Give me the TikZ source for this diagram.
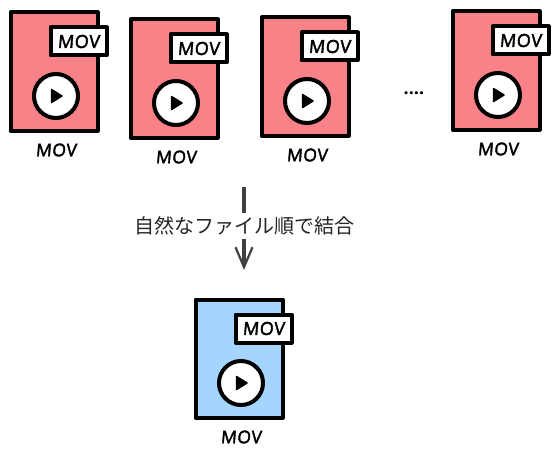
\documentclass[tikz,border=0pt]{standalone}
\usepackage{fontspec}
\setmainfont{Open Sans}
\newfontfamily\cjk{Noto Sans CJK JP}
\newfontfamily\movfont[FakeBold=2.2,FakeSlant=0.08,LetterSpace=3]{Open Sans}
\usetikzlibrary{arrows.meta}
\definecolor{redfill}{HTML}{F98289}
\definecolor{bluefill}{HTML}{A5D5FF}
\tikzset{
  x=1pt,y=-1pt,
  ink/.style={line width=4pt,line join=round,line cap=round,draw=black},
  filebody/.style={ink,minimum width=87pt,minimum height=118pt,inner sep=0pt},
  movtag/.style={ink,fill=white,minimum width=56pt,minimum height=28pt,inner sep=0pt,font=\movfont\fontsize{18}{18}\selectfont,text=black},
  playdisc/.style={ink,fill=white,circle,minimum size=44pt,inner sep=0pt},
  playmark/.style={fill=black,line join=round,draw=black,line width=1.5pt},
  caption/.style={inner sep=0pt,font=\movfont\fontsize{17.5}{18}\selectfont},
}
\newcommand{\movicon}[4]{% name, x, y of body top-left, fill
  \node[filebody,fill=#4] (#1body) at (#2+45,#3+60.5) {};
  \node[movtag] (#1tag) at (#2+69.5,#3+30.5) {MOV};
  \node[playdisc] (#1disc) at (#2+47,#3+85) {};
  \fill[playmark] (#2+42.5,#3+78.5) -- (#2+42.5,#3+91.5) -- (#2+53,#3+85) -- cycle;
  \node[caption] (#1cap) at (#2+47,#3+139) {MOV};
}
\begin{document}
\begin{tikzpicture}
\useasboundingbox (0,0) rectangle (560,460);
\movicon{a}{9}{11}{redfill}
\movicon{b}{129}{18}{redfill}
\movicon{c}{260}{16}{redfill}
\movicon{d}{451}{10}{redfill}
\movicon{e}{194}{298}{bluefill}
\node[inner sep=0pt,font=\fontsize{18}{18}\selectfont\bfseries] (dots) at (414,93) {....};
\coordinate (from) at (244,187);
\coordinate (to) at (244,270);
\draw[line width=4pt,draw=black!75,-{Straight Barb[length=20pt,width=17pt,line width=2.2pt]}] (from) -- (to);
\node[fill=white,inner xsep=1pt,inner ysep=4pt,font=\cjk\fontsize{20}{20}\selectfont,text=black!85] (lbl) at (244,226) {自然なファイル順で結合};
\end{tikzpicture}
\end{document}
